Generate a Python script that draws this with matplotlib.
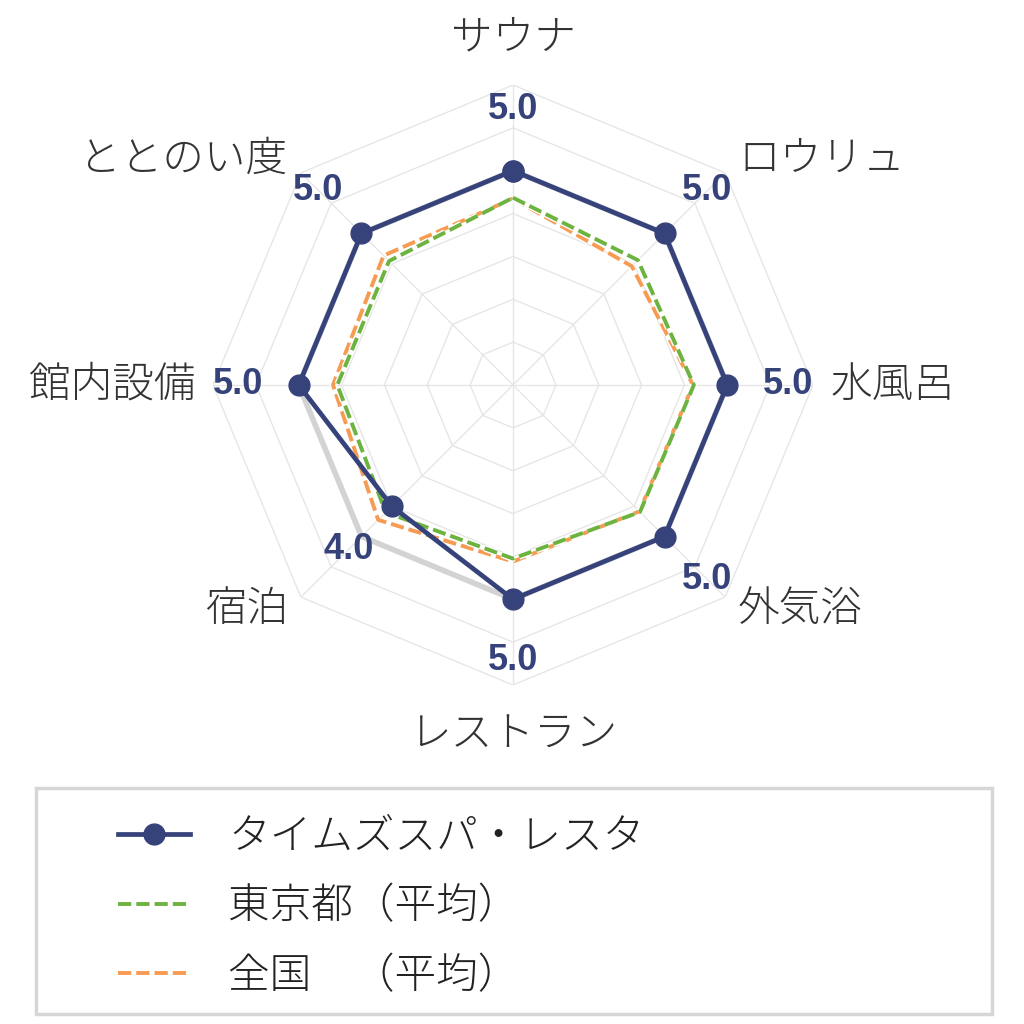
"""
Radar chart: sauna facility ratings vs. Tokyo / national averages.
"""

import numpy as np
import matplotlib
matplotlib.use("Agg")
import matplotlib.pyplot as plt
import matplotlib.patches as patches
import matplotlib.patheffects as pe

plt.rcParams['font.family'] = ['Noto Sans CJK JP', 'DejaVu Sans']

# Data
categories = ['サウナ', 'ロウリュ', '水風呂', '外気浴', 'レストラン', '宿泊', '館内設備', 'ととのい度']
facility = [5.0, 5.0, 5.0, 5.0, 5.0, 4.0, 5.0, 5.0]
tokyo_avg = [4.37, 4.12, 4.22, 4.19, 4.05, 4.20, 4.10, 4.09]
national_avg = [4.35, 3.92, 4.20, 4.17, 4.12, 4.45, 4.20, 4.27]
shadow = [5.0, 5.0, 5.0, 5.0, 5.0, 5.0, 5.0, 5.0]

legend_labels = ['タイムズスパ・レスタ', '東京都（平均）', '全国　（平均）']

r_max = 7
navy = '#36427a'
green = '#6db33f'
orange = '#f79a52'
grid_color = '#e6e6e6'
text_color = '#333333'
dash = (0, (3.4, 1.3))

n = len(categories)
angles = np.linspace(0, 2 * np.pi, n, endpoint=False)


def closed(vals):
    return np.append(vals, vals[0])


ang_c = closed(angles)

fig = plt.figure(figsize=(10.24, 10.24), dpi=100)
ax = fig.add_axes([213 / 1024, (1024 - 385 - 300) / 1024, 600 / 1024, 600 / 1024],
                  projection='polar')
ax.set_theta_offset(np.pi / 2)
ax.set_theta_direction(-1)
ax.set_ylim(0, r_max)
ax.grid(False)
ax.spines['polar'].set_visible(False)
ax.set_xticks([])
ax.set_yticks([])
ax.patch.set_alpha(0)

# Polygon grid
for r in range(1, r_max + 1):
    ax.plot(ang_c, [r] * (n + 1), color=grid_color, linewidth=1.0, zorder=1)
for a in angles:
    ax.plot([a, a], [0, r_max], color=grid_color, linewidth=1.0, zorder=1)

white_edge = [pe.Stroke(linewidth=4.8, foreground='white'), pe.Normal()]

# Series
ax.plot(ang_c, closed(shadow), color='#d3d3d3', linewidth=4, zorder=2)
ax.plot(ang_c, closed(national_avg), color=orange, linewidth=2.8,
        linestyle=dash, zorder=3, path_effects=white_edge)
ax.plot(ang_c, closed(tokyo_avg), color=green, linewidth=2.8,
        linestyle=dash, zorder=4, path_effects=white_edge)
ax.plot(ang_c, closed(facility), color=navy, linewidth=3.4, marker='o',
        markersize=15, zorder=5)

# Value labels
for a, v in zip(angles, facility):
    ax.text(a, v + 1.42, f'{v:.1f}', color=navy, fontsize=26, fontweight='bold',
            family=['Liberation Sans', 'DejaVu Sans'],
            ha='center', va='center', zorder=6)

# Category labels
label_pos = [
    (8.1, 'center', 'center'),
    (7.45, 'left', 'center'),
    (7.4, 'left', 'center'),
    (7.4, 'left', 'center'),
    (8.15, 'center', 'center'),
    (7.4, 'right', 'center'),
    (7.4, 'right', 'center'),
    (7.45, 'right', 'center'),
]
for a, cat, (r, ha, va) in zip(angles, categories, label_pos):
    ax.text(a, r, cat, color=text_color, fontsize=30, fontweight='light',
            ha=ha, va=va, clip_on=False)

# Legend
frame = patches.Rectangle((36 / 1024, (1024 - 1014) / 1024), 956 / 1024, 226 / 1024,
                          transform=fig.transFigure, fill=False,
                          edgecolor='#d6d6d6', linewidth=2.5)
fig.patches.append(frame)

handles = [
    plt.Line2D([], [], color=navy, linewidth=3.4, marker='o', markersize=15),
    plt.Line2D([], [], color=green, linewidth=2.8, linestyle=dash),
    plt.Line2D([], [], color=orange, linewidth=2.8, linestyle=dash),
]
leg = fig.legend(handles, legend_labels, loc='upper left',
                 bbox_to_anchor=(80 / 1024, (1024 - 778) / 1024),
                 frameon=False, fontsize=30, handlelength=1.75,
                 handletextpad=0.9, labelspacing=0.62)
for t in leg.get_texts():
    t.set_color('#222222')
    t.set_fontweight('light')

fig.savefig('out.png', dpi=100)
